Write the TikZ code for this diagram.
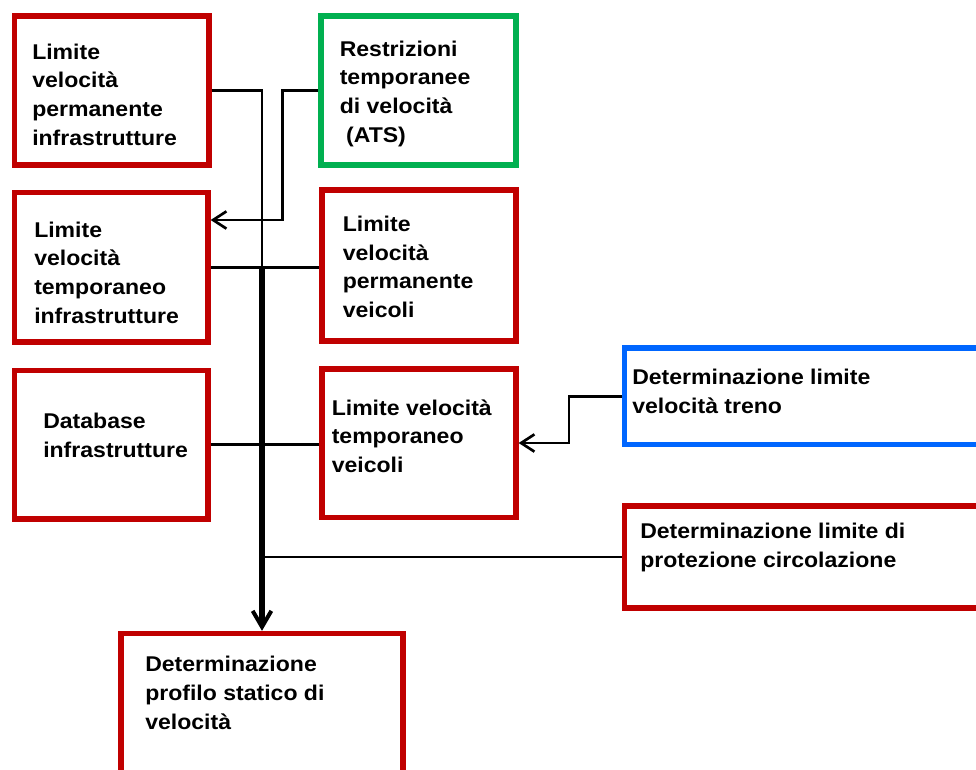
\documentclass[tikz,border=0pt]{standalone}
\usepackage{fontspec}
\setmainfont[FakeStretch=1.08]{Liberation Sans}
\usetikzlibrary{arrows.meta,fit}
\definecolor{BoxRed}{RGB}{192,0,0}
\definecolor{BoxGreen}{RGB}{0,176,80}
\definecolor{BoxBlue}{RGB}{0,102,255}

\tikzset{
  box/.style={draw=#1, line width=4pt, inner sep=0pt},
  boxtxt/.style={anchor=base west, inner sep=0pt, align=left,
    font=\fontsize{16}{21.5}\selectfont\bfseries},
  link/.style={line width=2pt},
  bus/.style={line width=4pt},
  tip/.style={-{Straight Barb[length=10pt,width=13pt]}},
  bustip/.style={-{Straight Barb[length=12pt,width=14pt,line width=3pt]}}
}

\begin{document}
\begin{tikzpicture}[x=0.75pt,y=-0.75pt]
\useasboundingbox (0,0) rectangle (976,769);
\clip (0,0) rectangle (976,769);

% riquadri
\node[box=BoxRed,   fit={(14.5,16) (209,165)}]    (lvpi) {};
\node[box=BoxGreen, fit={(321,16) (516,165)}]     (ats)  {};
\node[box=BoxRed,   fit={(14.5,192.5) (208,342)}] (lvti) {};
\node[box=BoxRed,   fit={(322,190) (516,341)}]    (lvpv) {};
\node[box=BoxRed,   fit={(14.5,370.5) (208,519)}] (dbi)  {};
\node[box=BoxRed,   fit={(322,369) (516,517.5)}]  (lvtv) {};
\node[box=BoxBlue,  fit={(624.5,348) (995,444.5)}] (dlvt) {};
\node[box=BoxRed,   fit={(624.5,506) (995,608)}]  (dlpc) {};
\node[box=BoxRed,   fit={(121,633.5) (403,795)}]  (dpsv) {};

% testi (ancorati alla linea di base dell'ultima riga)
\node[boxtxt] (lvpi-t) at (32,145) {Limite\\velocità\\permanente\\infrastrutture};
\node[boxtxt] (ats-t) at (339.5,142) {Restrizioni\\temporanee\\di velocità\\\ (ATS)};
\node[boxtxt] (lvti-t) at (34,323) {Limite\\velocità\\temporaneo\\infrastrutture};
\node[boxtxt] (lvpv-t) at (342.5,317.5) {Limite\\velocità\\permanente\\veicoli};
\node[boxtxt] (dbi-t) at (43,457.5) {Database\\infrastrutture};
\node[boxtxt] (lvtv-t) at (331.5,472.5) {Limite velocità\\temporaneo\\veicoli};
\node[boxtxt] (dlvt-t) at (632,413) {Determinazione limite\\velocità treno};
\node[boxtxt] (dlpc-t) at (640,567) {Determinazione limite di\\protezione circolazione};
\node[boxtxt] (dpsv-t) at (145,729) {Determinazione\\profilo statico di\\velocità};

% collegamenti
\coordinate (j1) at (dpsv.north |- lvti.east);
\coordinate (atsbend) at (282.5,220);
\coordinate (trbend) at (569,443);

\draw[link] (lvpi.east) -| (j1);
\draw[bus,bustip] (j1) -- (dpsv.north);
\draw[link,tip] (ats.west) -| (atsbend) -- (atsbend -| lvti.east);
\draw[link] (lvti.east) -- (lvti.east -| lvpv.west);
\draw[link] (dbi.east) -- (dbi.east -| lvtv.west);
\draw[link,tip] (dlvt.west) -| (trbend) -- (trbend -| lvtv.east);
\draw[link] (dlpc.west) -- (dlpc.west -| j1);

\end{tikzpicture}
\end{document}
